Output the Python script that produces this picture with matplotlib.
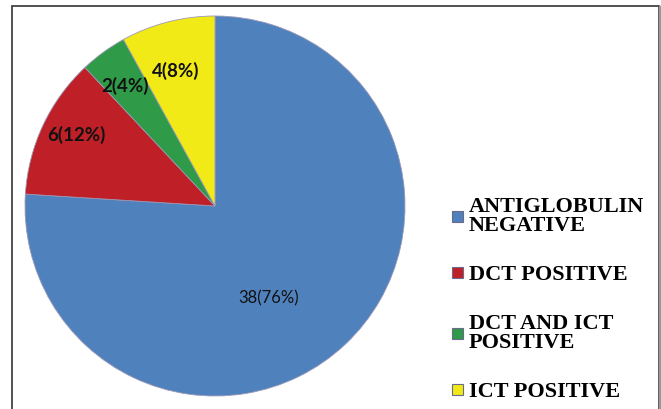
import numpy as np
import matplotlib.pyplot as plt
from matplotlib.patches import Rectangle

# data
categories = ["ANTIGLOBULIN\nNEGATIVE", "DCT POSITIVE", "DCT AND ICT\nPOSITIVE", "ICT POSITIVE"]
counts = [38, 6, 2, 4]
percents = [76, 12, 4, 8]
colors = ["#4F81BD", "#BF1F26", "#2F9A47", "#F2EA17"]

fig = plt.figure(figsize=(6.61, 4.09), dpi=100)

# outer frame
fig.patches.append(Rectangle((12 / 661, -0.05), 647 / 661, 1 - 6 / 409 + 0.05,
                             transform=fig.transFigure, fill=False,
                             edgecolor="#333333", linewidth=1.2))
fig.patches.append(Rectangle((659 / 661, -0.05), 2 / 661, 1 - 6 / 409 + 0.05,
                             transform=fig.transFigure, color="#999999"))

ax = fig.add_axes([25 / 661, 13 / 409, 380 / 661, 380 / 409])
wedges, _ = ax.pie(counts, colors=colors, startangle=90, counterclock=False,
                   wedgeprops=dict(edgecolor="#9a98b8", linewidth=0.6))
ax.set_xlim(-1, 1)
ax.set_ylim(-1, 1)
ax.axis("off")

# value labels (angle shift from wedge middle, distance from centre)
shift = [-13, -2, 1, 2]
dist = [0.56, 0.82, 0.79, 0.74]
for i, w in enumerate(wedges):
    ang = np.deg2rad((w.theta1 + w.theta2) / 2 + shift[i])
    ax.text(dist[i] * np.cos(ang), dist[i] * np.sin(ang),
            "%d(%d%%)" % (counts[i], percents[i]),
            ha="center", va="center", family="Lato",
            fontsize=12 if i == 0 else 13.5,
            fontweight="normal" if i == 0 else "bold", color="#111111")

leg = fig.legend(wedges, categories, loc="upper left",
                 bbox_to_anchor=(452 / 661, 1 - 197 / 409),
                 frameon=False, prop=dict(family="Liberation Serif", weight="bold", size=16),
                 handlelength=0.5, handleheight=0.4, handletextpad=0.25,
                 labelspacing=1.3, borderpad=0, borderaxespad=0)
for t in leg.get_texts():
    t.set_linespacing(0.95)
for h in leg.legend_handles:
    h.set_edgecolor("#6a6a8a")
    h.set_linewidth(0.8)

fig.savefig("out.png", dpi=100)
